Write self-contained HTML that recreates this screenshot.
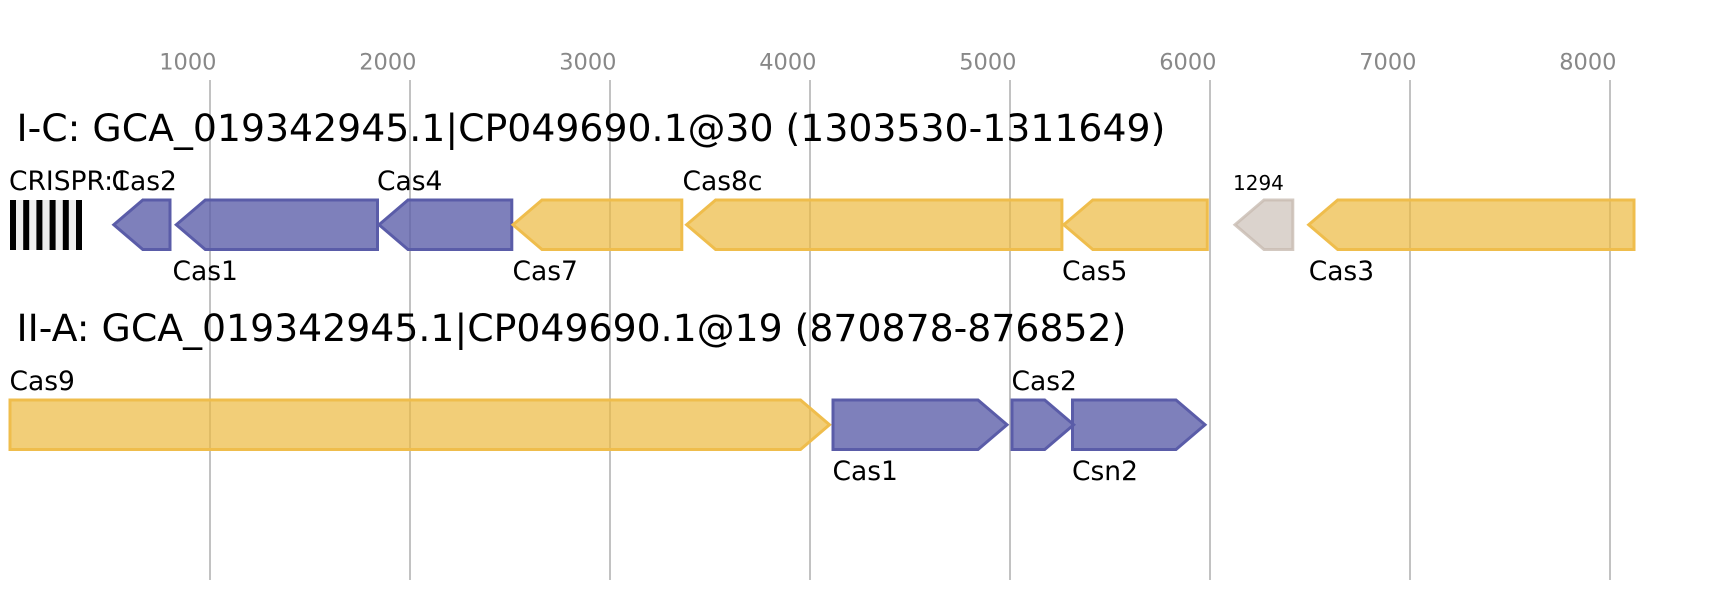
<!DOCTYPE html>
<html>
<head>
<meta charset="utf-8">
<style>
html,body{margin:0;padding:0;background:#fff;}
svg{display:block;}
text{font-family:"DejaVu Sans","Liberation Sans",sans-serif;}
</style>
</head>
<body>
<svg width="1724" height="600" viewBox="0 0 1724 600" xmlns="http://www.w3.org/2000/svg">
  <rect x="0" y="0" width="1724" height="600" fill="#fff"/>
  <!-- grid -->
  <g stroke="#c2c2c2" stroke-width="2">
    <line x1="210" y1="80" x2="210" y2="580"/>
    <line x1="410" y1="80" x2="410" y2="580"/>
    <line x1="610" y1="80" x2="610" y2="580"/>
    <line x1="810" y1="80" x2="810" y2="580"/>
    <line x1="1010" y1="80" x2="1010" y2="580"/>
    <line x1="1210" y1="80" x2="1210" y2="580"/>
    <line x1="1410" y1="80" x2="1410" y2="580"/>
    <line x1="1610" y1="80" x2="1610" y2="580"/>
  </g>
  <g fill="#888" font-size="22.5" text-anchor="end">
    <text x="216.5" y="69.5">1000</text>
    <text x="416.5" y="69.5">2000</text>
    <text x="616.5" y="69.5">3000</text>
    <text x="816.5" y="69.5">4000</text>
    <text x="1016.5" y="69.5">5000</text>
    <text x="1216.5" y="69.5">6000</text>
    <text x="1416.5" y="69.5">7000</text>
    <text x="1616.5" y="69.5">8000</text>
  </g>

  <!-- Row 1 -->
  <text x="16.5" y="141" font-size="37.8" fill="#000">I-C: GCA_019342945.1|CP049690.1@30 (1303530-1311649)</text>

  <!-- CRISPR array -->
  <rect x="10" y="200" width="72" height="50" fill="#eeeeee"/>
  <g fill="#000">
    <rect x="10" y="200" width="6" height="50"/>
    <rect x="23.2" y="200" width="6" height="50"/>
    <rect x="36.4" y="200" width="6" height="50"/>
    <rect x="49.6" y="200" width="6" height="50"/>
    <rect x="62.8" y="200" width="6" height="50"/>
    <rect x="76" y="200" width="6" height="50"/>
  </g>

  <g stroke-width="3" stroke-linejoin="miter">
    <!-- blue leftward -->
    <g fill="rgba(90,92,168,0.78)" stroke="#5a5ca8">
      <path d="M113.8,224.75 L142.8,200 L170,200 L170,249.5 L142.8,249.5 Z"/>
      <path d="M176.3,224.75 L205.3,200 L377.5,200 L377.5,249.5 L205.3,249.5 Z"/>
      <path d="M379,224.75 L408,200 L511.8,200 L511.8,249.5 L408,249.5 Z"/>
    </g>
    <!-- yellow leftward -->
    <g fill="rgba(237,185,62,0.7)" stroke="#efbd4c">
      <path d="M513,224.75 L542,200 L681.8,200 L681.8,249.5 L542,249.5 Z"/>
      <path d="M686.6,224.75 L715.6,200 L1061.9,200 L1061.9,249.5 L715.6,249.5 Z"/>
      <path d="M1063.8,224.75 L1092.8,200 L1207.3,200 L1207.3,249.5 L1092.8,249.5 Z"/>
      <path d="M1308.7,224.75 L1337.7,200 L1634,200 L1634,249.5 L1337.7,249.5 Z"/>
    </g>
    <!-- gray -->
    <path d="M1235,224.75 L1264,200 L1292.8,200 L1292.8,249.5 L1264,249.5 Z" fill="rgba(200,188,178,0.65)" stroke="rgba(200,188,178,0.8)"/>
  </g>

  <g font-size="26.5" fill="#000">
    <text x="9" y="190">CRISPR:1</text>
    <text x="111.5" y="190">Cas2</text>
    <text x="172.5" y="280">Cas1</text>
    <text x="377" y="190">Cas4</text>
    <text x="512.5" y="280">Cas7</text>
    <text x="682.5" y="190">Cas8c</text>
    <text x="1062" y="280">Cas5</text>
    <text x="1308.7" y="280">Cas3</text>
  </g>
  <text x="1233" y="190" font-size="20" fill="#000">1294</text>

  <!-- Row 2 -->
  <text x="16.5" y="341" font-size="37.8" fill="#000">II-A: GCA_019342945.1|CP049690.1@19 (870878-876852)</text>

  <g stroke-width="3" stroke-linejoin="miter">
    <path d="M10,400 L800.5,400 L829.5,424.75 L800.5,449.5 L10,449.5 Z" fill="rgba(237,185,62,0.7)" stroke="#efbd4c"/>
    <g fill="rgba(90,92,168,0.78)" stroke="#5a5ca8">
      <path d="M833,400 L978,400 L1007,424.75 L978,449.5 L833,449.5 Z"/>
      <path d="M1012,400 L1044.7,400 L1073.7,424.75 L1044.7,449.5 L1012,449.5 Z"/>
      <path d="M1072.5,400 L1176,400 L1205,424.75 L1176,449.5 L1072.5,449.5 Z"/>
    </g>
  </g>

  <g font-size="26.5" fill="#000">
    <text x="9.5" y="390">Cas9</text>
    <text x="832.5" y="480">Cas1</text>
    <text x="1011.5" y="390">Cas2</text>
    <text x="1072" y="480">Csn2</text>
  </g>
</svg>
</body>
</html>
